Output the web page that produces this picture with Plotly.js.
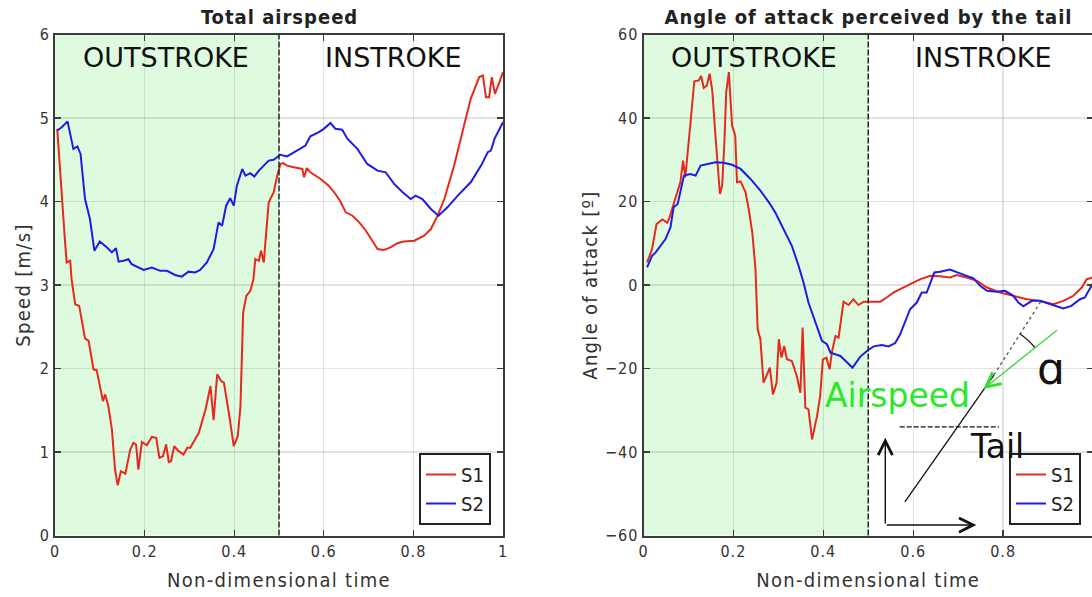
<!DOCTYPE html>
<html>
<head>
<meta charset="utf-8">
<script src="https://cdn.plot.ly/plotly-3.0.1.min.js"></script>
<style>
  html, body { margin: 0; padding: 0; overflow: hidden; background: #fff; }
  #chart { width: 1094px; height: 597px; }
  .xtick text, .ytick text, .x2tick text, .y2tick text { letter-spacing: 1px; }
  .xtitle, .x2title, .ytitle, .y2title { letter-spacing: 1.3px; }
  .annotation[data-index="0"] text, .annotation[data-index="1"] text { letter-spacing: 1px; }
</style>
</head>
<body>
<div id="chart"></div>
<script>
// ---------------- data ----------------
const strokeSplit = 0.5;
const seriesNames = ["S1", "S2"];

// Total airspeed [m/s]
const tSpeedS1 = [0.005,0.015,0.022,0.026,0.034,0.037,0.045,0.054,0.067,0.075,0.086,0.093,0.107,0.112,0.119,0.127,0.134,0.140,0.147,0.157,0.168,0.175,0.181,0.186,0.194,0.205,0.216,0.226,0.233,0.241,0.248,0.254,0.259,0.266,0.276,0.287,0.295,0.302,0.321,0.336,0.347,0.354,0.362,0.371,0.377,0.388,0.399,0.408,0.414,0.420,0.427,0.436,0.443,0.447,0.455,0.460,0.466,0.477,0.488,0.496,0.503,0.509,0.518,0.533,0.552,0.556,0.562,0.570,0.593,0.611,0.626,0.638,0.649,0.664,0.679,0.694,0.705,0.720,0.734,0.749,0.764,0.779,0.802,0.824,0.839,0.854,0.869,0.891,0.913,0.928,0.947,0.955,0.962,0.969,0.975,0.982,0.992,1.000];
const vSpeedS1 = [4.87,4.03,3.55,3.27,3.29,3.07,2.77,2.75,2.36,2.33,1.99,1.98,1.61,1.69,1.55,1.27,0.79,0.60,0.77,0.74,1.03,1.11,1.09,0.79,1.12,1.08,1.18,1.17,0.93,0.95,1.09,0.88,0.89,1.07,1.01,0.97,1.05,1.05,1.23,1.51,1.79,1.38,1.93,1.85,1.83,1.47,1.07,1.19,1.55,2.67,2.87,2.93,3.07,3.31,3.29,3.41,3.27,3.99,4.11,4.31,4.45,4.46,4.43,4.41,4.39,4.29,4.40,4.35,4.27,4.19,4.09,3.99,3.87,3.83,3.75,3.65,3.55,3.43,3.42,3.45,3.50,3.52,3.53,3.59,3.67,3.83,4.03,4.43,4.91,5.23,5.49,5.51,5.25,5.25,5.49,5.29,5.43,5.55];

const tSpeedS2 = [0.005,0.015,0.028,0.041,0.050,0.057,0.067,0.078,0.088,0.100,0.116,0.127,0.136,0.142,0.153,0.164,0.171,0.198,0.216,0.235,0.250,0.268,0.283,0.298,0.313,0.324,0.339,0.354,0.365,0.373,0.382,0.391,0.399,0.406,0.418,0.425,0.436,0.445,0.455,0.477,0.488,0.500,0.503,0.518,0.541,0.559,0.570,0.589,0.600,0.615,0.626,0.641,0.653,0.675,0.697,0.720,0.738,0.757,0.776,0.794,0.805,0.820,0.839,0.856,0.876,0.899,0.928,0.951,0.966,0.973,0.981,0.996,1.000];
const vSpeedS2 = [4.85,4.89,4.96,4.63,4.66,4.57,4.03,3.79,3.41,3.52,3.45,3.39,3.44,3.28,3.29,3.31,3.25,3.18,3.21,3.17,3.17,3.12,3.10,3.16,3.15,3.18,3.27,3.43,3.75,3.71,3.95,4.04,3.95,4.19,4.39,4.31,4.34,4.30,4.37,4.49,4.50,4.55,4.56,4.54,4.61,4.67,4.78,4.83,4.87,4.94,4.87,4.86,4.75,4.63,4.45,4.37,4.35,4.21,4.11,4.03,4.07,4.03,3.91,3.83,3.93,4.07,4.23,4.43,4.59,4.61,4.75,4.91,4.95];

// Angle of attack perceived by the tail [º]
const tAoaS1 = [0.008,0.019,0.029,0.042,0.053,0.058,0.067,0.076,0.082,0.088,0.093,0.104,0.113,0.123,0.128,0.134,0.141,0.147,0.153,0.160,0.170,0.175,0.180,0.184,0.190,0.193,0.197,0.204,0.208,0.216,0.227,0.234,0.242,0.249,0.252,0.254,0.260,0.267,0.275,0.281,0.288,0.296,0.301,0.307,0.313,0.319,0.330,0.341,0.349,0.354,0.360,0.367,0.375,0.386,0.393,0.399,0.407,0.414,0.419,0.427,0.434,0.445,0.456,0.467,0.478,0.490,0.501,0.527,0.541,0.556,0.571,0.593,0.616,0.638,0.660,0.682,0.697,0.719,0.742,0.764,0.793,0.823,0.853,0.882,0.912,0.934,0.956,0.975,0.986,1.000];
const aAoaS1 = [5.4,8.6,14.6,15.7,14.9,16.2,19.4,22.2,24.6,29.8,25.8,38.2,48.8,49.0,50.1,47.2,47.8,50.6,46.6,35.8,21.8,23.8,34.2,46.2,51.0,45.4,38.2,35.8,24.6,24.8,22.2,18.2,12.6,4.0,-3.0,-10.6,-13.0,-23.4,-21.4,-19.8,-26.2,-23.4,-13.0,-17.4,-14.6,-17.8,-18.2,-21.8,-25.8,-10.2,-29.4,-29.8,-37.0,-31.4,-26.6,-17.8,-17.4,-20.2,-16.2,-12.2,-12.6,-4.0,-4.8,-3.4,-4.8,-4.0,-4.0,-4.0,-3.0,-1.8,-1.0,0.2,1.4,2.2,2.1,1.8,2.4,1.8,1.0,-0.6,-1.8,-2.6,-3.4,-3.8,-4.6,-3.8,-2.6,-0.6,1.4,1.8];

const tAoaS2 = [0.008,0.019,0.027,0.038,0.049,0.060,0.067,0.076,0.082,0.090,0.104,0.116,0.127,0.141,0.160,0.178,0.197,0.216,0.238,0.260,0.279,0.293,0.312,0.330,0.345,0.356,0.367,0.382,0.397,0.408,0.416,0.438,0.453,0.465,0.482,0.497,0.512,0.530,0.545,0.560,0.571,0.582,0.593,0.608,0.619,0.630,0.638,0.647,0.660,0.682,0.701,0.719,0.734,0.749,0.764,0.786,0.804,0.823,0.834,0.845,0.864,0.882,0.904,0.934,0.952,0.971,0.982,1.000];
const aAoaS2 = [4.2,7.0,7.8,9.4,11.0,13.8,18.6,19.4,22.2,26.2,26.6,26.2,28.6,29.0,29.4,29.3,28.8,27.8,25.4,22.6,19.8,17.4,13.4,9.4,4.6,0.6,-4.2,-9.0,-13.4,-14.2,-16.2,-17.0,-18.6,-19.8,-17.2,-15.8,-14.7,-14.4,-14.7,-13.9,-11.8,-9.0,-5.8,-4.2,-1.8,-1.8,0.6,3.0,3.2,3.7,2.9,2.1,1.6,-0.2,-1.4,-1.6,-1.4,-2.6,-4.2,-5.1,-3.8,-3.8,-4.6,-5.6,-5.0,-3.4,-3.0,0.5];

// ---------------- styling ----------------
const RED = "#e8281c";
const BLUE = "#1c1ce8";
const GREEN_BG = "#dffbdf";
const NARROW = "'Liberation Sans Narrow', 'DejaVu Sans Condensed', 'Liberation Sans', sans-serif";
const PLAIN = "'DejaVu Sans', Verdana, sans-serif";
const W = 1094, H = 597;

const yDom = [(597 - 535.5) / H, (597 - 34.5) / H];
const axisCommon = {
  showline: true, linecolor: "#3c3c3c", linewidth: 2, mirror: "ticks",
  ticks: "inside", ticklen: 6, tickwidth: 1.3, tickcolor: "#3c3c3c",
  showgrid: true, gridcolor: "rgba(0,0,0,0.11)", gridwidth: 1.3,
  zeroline: false, fixedrange: true,
  tickfont: { family: NARROW, size: 16, color: "#333" }
};
const xTitle = (txt) => ({ text: txt, font: { family: NARROW, size: 20, color: "#333" }, standoff: 13 });

const traces = [
  { x: tSpeedS1, y: vSpeedS1, name: seriesNames[0], xaxis: "x", yaxis: "y", legend: "legend",
    mode: "lines", line: { color: RED, width: 2 } },
  { x: tSpeedS2, y: vSpeedS2, name: seriesNames[1], xaxis: "x", yaxis: "y", legend: "legend",
    mode: "lines", line: { color: BLUE, width: 2 } },
  { x: tAoaS1, y: aAoaS1, name: seriesNames[0], xaxis: "x2", yaxis: "y2", legend: "legend2",
    mode: "lines", line: { color: RED, width: 2 } },
  { x: tAoaS2, y: aAoaS2, name: seriesNames[1], xaxis: "x2", yaxis: "y2", legend: "legend2",
    mode: "lines", line: { color: BLUE, width: 2 } }
];

// ---------------- decorative diagram (right panel, in its data units) ----------------
const tailLine = { t0: 0.5815, a0: -51.97, tb: 0.7795, ab: -21.56, t1: 0.8875, a1: -3.35 };
const airArrow = { t0: 0.9232, a0: -10.54, t1: 0.7561, a1: -24.91 };
const tailChord = { t0: 0.570, t1: 0.791, a: -34.0 };
const frameArrows = { t: 0.5379, a: -57.5, aTop: -36.6, tRight: 0.7405 };

// arc marking alpha (between the tail line extension and the airspeed arrow)
const pxPerT = 449, pxPerA = 501 / 120;
function arcPath() {
  const ct = airArrow.t1, ca = airArrow.a1, r = 66;
  const ang1 = Math.atan2((tailLine.a1 - ca) * pxPerA, (tailLine.t1 - ct) * pxPerT);
  const ang2 = Math.atan2((airArrow.a0 - ca) * pxPerA, (airArrow.t0 - ct) * pxPerT);
  let d = "";
  for (let i = 0; i <= 16; i++) {
    const a = ang1 + (ang2 - ang1) * i / 16;
    const t = ct + r * Math.cos(a) / pxPerT;
    const v = ca + r * Math.sin(a) / pxPerA;
    d += (i === 0 ? "M" : "L") + t.toFixed(4) + "," + v.toFixed(3);
  }
  return d;
}

const shapes = [
  { type: "rect", xref: "x", yref: "y domain", x0: 0, x1: strokeSplit, y0: 0, y1: 1,
    fillcolor: GREEN_BG, line: { width: 0 }, layer: "below" },
  { type: "rect", xref: "x2", yref: "y2 domain", x0: 0, x1: strokeSplit, y0: 0, y1: 1,
    fillcolor: GREEN_BG, line: { width: 0 }, layer: "below" },
  { type: "line", xref: "x", yref: "y domain", x0: strokeSplit, x1: strokeSplit, y0: 0, y1: 1,
    line: { color: "#222", width: 1.5, dash: "6px,2px" }, layer: "above" },
  { type: "line", xref: "x2", yref: "y2 domain", x0: strokeSplit, x1: strokeSplit, y0: 0, y1: 1,
    line: { color: "#222", width: 1.5, dash: "6px,2px" }, layer: "above" },
  // tail chord (solid) and its dotted extension
  { type: "line", xref: "x2", yref: "y2", x0: tailLine.t0, y0: tailLine.a0, x1: tailLine.tb, y1: tailLine.ab,
    line: { color: "#111", width: 1.3 } },
  { type: "line", xref: "x2", yref: "y2", x0: tailLine.tb, y0: tailLine.ab, x1: tailLine.t1, y1: tailLine.a1,
    line: { color: "#555", width: 1.3, dash: "dot" } },
  // horizontal dashed reference
  { type: "line", xref: "x2", yref: "y2", x0: tailChord.t0, y0: tailChord.a, x1: tailChord.t1, y1: tailChord.a,
    line: { color: "#111", width: 1.3, dash: "5px,2px" } },
  // alpha arc
  { type: "path", xref: "x2", yref: "y2", path: arcPath(), line: { color: "#222", width: 1.3 } }
];

const annotations = [
  { text: "<b>Total airspeed</b>", xref: "paper", yref: "paper", x: 279 / W, y: (597 - 17) / H,
    showarrow: false, xanchor: "center", yanchor: "middle", font: { family: NARROW, size: 20, color: "#222" } },
  { text: "<b>Angle of attack perceived by the tail</b>", xref: "paper", yref: "paper", x: 868 / W, y: (597 - 17) / H,
    showarrow: false, xanchor: "center", yanchor: "middle", font: { family: NARROW, size: 20, color: "#222" } },
  { text: "OUTSTROKE", xref: "x", yref: "y", x: 0.247, y: 5.73, showarrow: false,
    font: { family: PLAIN, size: 27, color: "#111" } },
  { text: "INSTROKE", xref: "x", yref: "y", x: 0.755, y: 5.73, showarrow: false,
    font: { family: PLAIN, size: 27, color: "#111" } },
  { text: "OUTSTROKE", xref: "x2", yref: "y2", x: 0.246, y: 54.6, showarrow: false,
    font: { family: PLAIN, size: 27, color: "#111" } },
  { text: "INSTROKE", xref: "x2", yref: "y2", x: 0.757, y: 54.6, showarrow: false,
    font: { family: PLAIN, size: 27, color: "#111" } },
  { text: "Airspeed", xref: "x2", yref: "y2", x: 0.399, y: -26.5, xanchor: "left", yanchor: "middle",
    showarrow: false, font: { family: PLAIN, size: 33, color: "#2ae82a" } },
  { text: "Tail", xref: "x2", yref: "y2", x: 0.722, y: -38.8, xanchor: "left", yanchor: "middle",
    showarrow: false, font: { family: PLAIN, size: 33, color: "#111" } },
  { text: "ɑ", xref: "x2", yref: "y2", x: 0.9076, y: -20.0, xanchor: "center", yanchor: "middle",
    showarrow: false, font: { family: PLAIN, size: 44, color: "#111" } },
  // airspeed arrow
  { text: "", xref: "x2", yref: "y2", axref: "x2", ayref: "y2",
    x: airArrow.t1, y: airArrow.a1, ax: airArrow.t0, ay: airArrow.a0,
    showarrow: true, arrowhead: 5, arrowsize: 2.2, arrowwidth: 1.3, arrowcolor: "#33dd33" },
  // frame arrows
  { text: "", xref: "x2", yref: "y2", axref: "x2", ayref: "y2",
    x: frameArrows.t, y: frameArrows.aTop, ax: frameArrows.t, ay: frameArrows.a,
    showarrow: true, arrowhead: 5, arrowsize: 2, arrowwidth: 1.4, arrowcolor: "#111" },
  { text: "", xref: "x2", yref: "y2", axref: "x2", ayref: "y2",
    x: frameArrows.tRight, y: frameArrows.a, ax: frameArrows.t, ay: frameArrows.a,
    showarrow: true, arrowhead: 5, arrowsize: 2, arrowwidth: 1.4, arrowcolor: "#111" }
];

const legendCommon = {
  bgcolor: "#fff", bordercolor: "#222", borderwidth: 2,
  font: { family: NARROW, size: 20, color: "#222" },
  itemwidth: 30, tracegroupgap: 0, yanchor: "bottom", xanchor: "right",
  y: (597 - 525) / H
};

const layout = {
  width: W, height: H,
  margin: { l: 0, r: 0, t: 0, b: 0 },
  paper_bgcolor: "#fff", plot_bgcolor: "#fff",
  showlegend: true,
  legend: Object.assign({}, legendCommon, { x: 491 / W }),
  legend2: Object.assign({}, legendCommon, { x: 1081 / W }),
  xaxis: Object.assign({}, axisCommon, { domain: [55 / W, 503 / W], range: [0, 1], dtick: 0.2, anchor: "y",
    title: xTitle("Non-dimensional time") }),
  yaxis: Object.assign({}, axisCommon, { domain: yDom, range: [0, 6], dtick: 1, anchor: "x",
    title: { text: "Speed [m/s]", font: { family: NARROW, size: 20, color: "#333" }, standoff: 4 } }),
  xaxis2: Object.assign({}, axisCommon, { domain: [643.5 / W, 1093 / W], range: [0, 1], dtick: 0.2, anchor: "y2",
    title: xTitle("Non-dimensional time") }),
  yaxis2: Object.assign({}, axisCommon, { domain: yDom, range: [-60, 60], dtick: 20, anchor: "x2",
    title: { text: "Angle of attack [º]", font: { family: NARROW, size: 20, color: "#333" }, standoff: 2 } }),
  shapes: shapes,
  annotations: annotations
};

Plotly.newPlot("chart", traces, layout, { displayModeBar: false, staticPlot: true });
</script>
</body>
</html>
